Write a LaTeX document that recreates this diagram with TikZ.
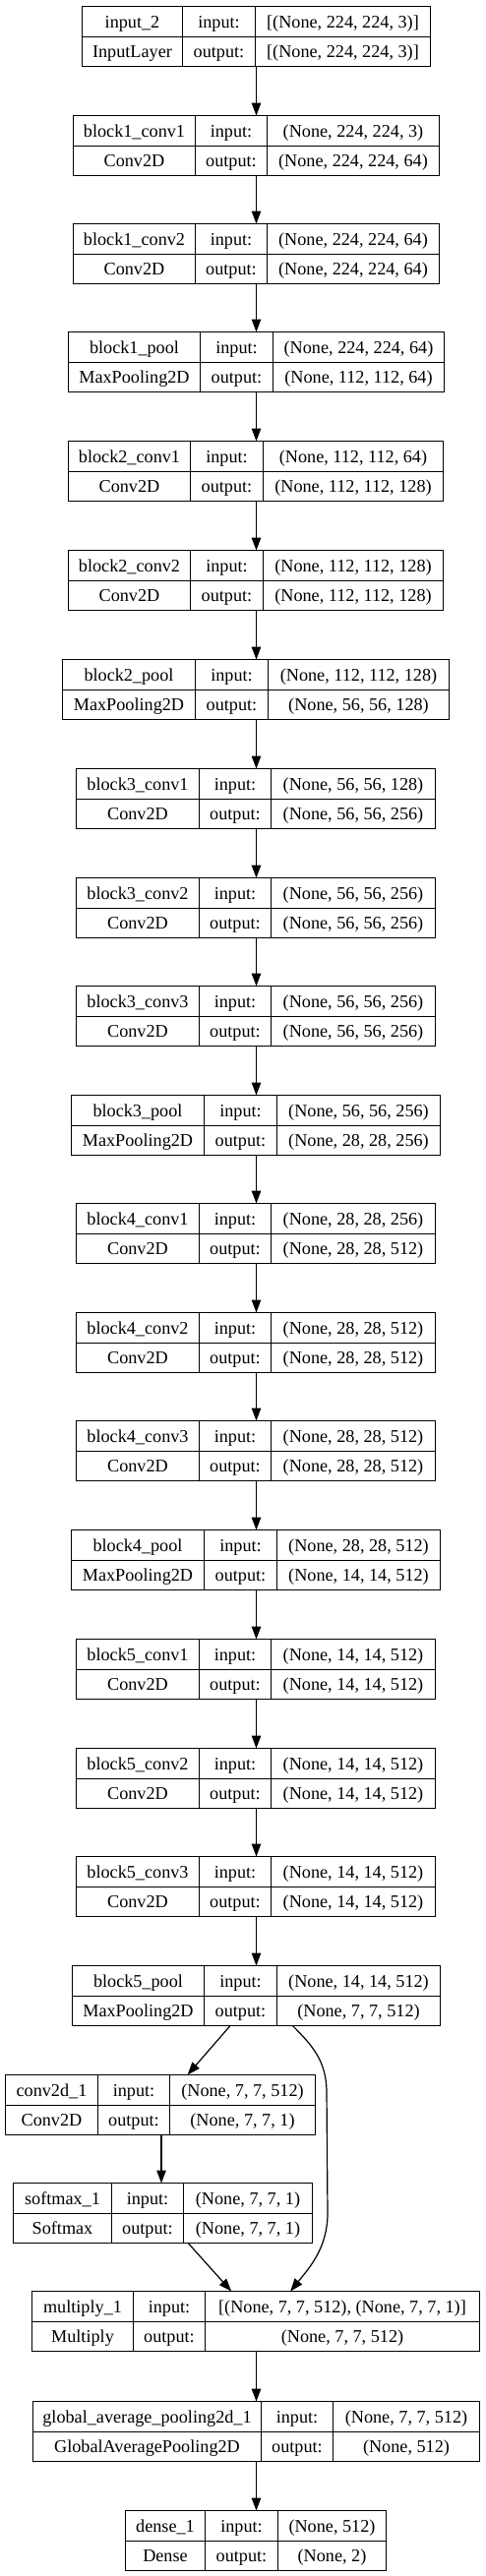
\documentclass[tikz,border=0pt]{standalone}
\usepackage{fontspec}
\setmainfont{Liberation Serif}
\usetikzlibrary{arrows.meta}
\tikzset{
  lbox/.style={inner sep=0pt, outer sep=0pt, anchor=north west},
  cell/.style={anchor=base, inner sep=0pt, font=\fontsize{18.2}{22}\selectfont},
  sepline/.style={draw=black, line width=1.2pt},
  conn/.style={draw=black, line width=1.2pt, -{Triangle[length=13pt,width=9.5pt]}},
}
\newcommand\layerbox[9]{\def\LBname{#1}%
  \pgfmathsetmacro\LBtop{round(#2)+0.5}\pgfmathsetmacro\LBa{round(#3)+0.5}\pgfmathsetmacro\LBb{round(#4)+0.5}%
  \pgfmathsetmacro\LBc{round(#5)+0.5}\pgfmathsetmacro\LBd{round(#6)+0.5}%
  \def\LBtitle{#7}\def\LBtype{#8}\def\LBin{#9}\LBdraw}
\newcommand\LBdraw[1]{%
  \pgfmathsetmacro\LBw{\LBd-\LBa}%
  \pgfmathsetmacro\LBmid{\LBtop+31}%
  \pgfmathsetmacro\LBbot{\LBtop+61}%
  \node[lbox, minimum width=\LBw pt, minimum height=61pt] (\LBname) at (\LBa,\LBtop) {};
  \draw[sepline] (\LBa,\LBtop) rectangle (\LBd,\LBbot);
  \draw[sepline] (\LBa,\LBmid) -- (\LBd,\LBmid);
  \draw[sepline] (\LBb,\LBtop) -- (\LBb,\LBbot);
  \draw[sepline] (\LBc,\LBtop) -- (\LBc,\LBbot);
  \node[cell] (\LBname-t) at ({(\LBa+\LBb)/2},{\LBtop+21.75}) {\LBtitle};
  \node[cell] (\LBname-k) at ({(\LBa+\LBb)/2},{\LBtop+52.25}) {\LBtype};
  \node[cell] (\LBname-i) at ({(\LBb+\LBc)/2},{\LBtop+21.75}) {input:};
  \node[cell] (\LBname-o) at ({(\LBb+\LBc)/2},{\LBtop+52.25}) {output:};
  \node[cell] (\LBname-s) at ({(\LBc+\LBd)/2},{\LBtop+21.75}) {\LBin};
  \node[cell] (\LBname-r) at ({(\LBc+\LBd)/2},{\LBtop+52.25}) {#1};
}
\begin{document}
\begin{tikzpicture}[x=1pt,y=-1pt]
\fill[white] (0,0) rectangle (493,2619);
\useasboundingbox (0,0) rectangle (493,2619);

\layerbox{in2}{5.7}{82.7}{185}{258.7}{437.3}{input\_2}{InputLayer}{[(None, 224, 224, 3)]}{[(None, 224, 224, 3)]}
\layerbox{b1c1}{116.7}{73.7}{197.7}{271}{445.7}{block1\_conv1}{Conv2D}{(None, 224, 224, 3)}{(None, 224, 224, 64)}
\layerbox{b1c2}{227.3}{73.7}{197.7}{271}{445.7}{block1\_conv2}{Conv2D}{(None, 224, 224, 64)}{(None, 224, 224, 64)}
\layerbox{b1p}{337.3}{68.7}{203}{276.7}{451}{block1\_pool}{MaxPooling2D}{(None, 224, 224, 64)}{(None, 112, 112, 64)}
\layerbox{b2c1}{448.3}{69}{193.3}{266.7}{450}{block2\_conv1}{Conv2D}{(None, 112, 112, 64)}{(None, 112, 112, 128)}
\layerbox{b2c2}{559}{69}{193.3}{266.7}{450}{block2\_conv2}{Conv2D}{(None, 112, 112, 128)}{(None, 112, 112, 128)}
\layerbox{b2p}{670}{63.3}{198.3}{271.7}{456}{block2\_pool}{MaxPooling2D}{(None, 112, 112, 128)}{(None, 56, 56, 128)}
\layerbox{b3c1}{781}{77.3}{202.3}{275.3}{441.7}{block3\_conv1}{Conv2D}{(None, 56, 56, 128)}{(None, 56, 56, 256)}
\layerbox{b3c2}{891.7}{77.3}{202.3}{275.3}{441.7}{block3\_conv2}{Conv2D}{(None, 56, 56, 256)}{(None, 56, 56, 256)}
\layerbox{b3c3}{1002.3}{77.3}{202.3}{275.3}{441.7}{block3\_conv3}{Conv2D}{(None, 56, 56, 256)}{(None, 56, 56, 256)}
\layerbox{b3p}{1113}{72.3}{207.3}{280.7}{447.3}{block3\_pool}{MaxPooling2D}{(None, 56, 56, 256)}{(None, 28, 28, 256)}
\layerbox{b4c1}{1222.7}{77.3}{202.3}{275.3}{441.7}{block4\_conv1}{Conv2D}{(None, 28, 28, 256)}{(None, 28, 28, 512)}
\layerbox{b4c2}{1334}{77.3}{202.3}{275.3}{441.7}{block4\_conv2}{Conv2D}{(None, 28, 28, 512)}{(None, 28, 28, 512)}
\layerbox{b4c3}{1444.3}{77.3}{202.3}{275.3}{441.7}{block4\_conv3}{Conv2D}{(None, 28, 28, 512)}{(None, 28, 28, 512)}
\layerbox{b4p}{1555}{72.3}{207.3}{280.7}{447.3}{block4\_pool}{MaxPooling2D}{(None, 28, 28, 512)}{(None, 14, 14, 512)}
\layerbox{b5c1}{1665.7}{77.3}{202.3}{275.3}{441.7}{block5\_conv1}{Conv2D}{(None, 14, 14, 512)}{(None, 14, 14, 512)}
\layerbox{b5c2}{1776.7}{77.3}{202.3}{275.3}{441.7}{block5\_conv2}{Conv2D}{(None, 14, 14, 512)}{(None, 14, 14, 512)}
\layerbox{b5c3}{1887.3}{77.3}{202.3}{275.3}{441.7}{block5\_conv3}{Conv2D}{(None, 14, 14, 512)}{(None, 14, 14, 512)}
\layerbox{b5p}{1997.7}{72.7}{207.3}{280.7}{447}{block5\_pool}{MaxPooling2D}{(None, 14, 14, 512)}{(None, 7, 7, 512)}
\layerbox{cv}{2108.7}{4.7}{98.7}{172}{320}{conv2d\_1}{Conv2D}{(None, 7, 7, 512)}{(None, 7, 7, 1)}
\layerbox{sm}{2219.3}{13.3}{112.7}{185.7}{316.7}{softmax\_1}{Softmax}{(None, 7, 7, 1)}{(None, 7, 7, 1)}
\layerbox{mul}{2329.3}{32.3}{135}{208.3}{487.3}{multiply\_1}{Multiply}{[(None, 7, 7, 512), (None, 7, 7, 1)]}{(None, 7, 7, 512)}
\layerbox{gap}{2440.7}{32.7}{265.3}{338.3}{487.3}{global\_average\_pooling2d\_1}{GlobalAveragePooling2D}{(None, 7, 7, 512)}{(None, 512)}
\layerbox{den}{2551.7}{127}{208.3}{282}{392.3}{dense\_1}{Dense}{(None, 512)}{(None, 2)}

\coordinate (axis) at (260.5,0);
\foreach \a/\b in {in2/b1c1,b1c1/b1c2,b1c2/b1p,b1p/b2c1,b2c1/b2c2,b2c2/b2p,b2p/b3c1,b3c1/b3c2,b3c2/b3c3,b3c3/b3p,b3p/b4c1,b4c1/b4c2,b4c2/b4c3,b4c3/b4p,b4p/b5c1,b5c1/b5c2,b5c2/b5c3,b5c3/b5p,mul/gap,gap/den}
  \draw[conn] (\a.south -| axis) -- (\b.north -| axis);

\draw[conn] ([xshift=-26.5pt]b5p.south) -- ([xshift=27.6pt]cv.north);
\draw[conn] ([xshift=1pt]cv.south) -- ([xshift=1pt]cv.south |- sm.north);
\draw[conn] ([xshift=25.7pt]sm.south) -- ([xshift=-24.8pt]mul.north);
\draw[conn] ([xshift=36.9pt]b5p.south) .. controls (318,2080) and (331,2095) .. (332,2125) -- (333,2250) .. controls (333,2285) and (315,2305) .. ([xshift=35.2pt]mul.north);
\end{tikzpicture}
\end{document}
